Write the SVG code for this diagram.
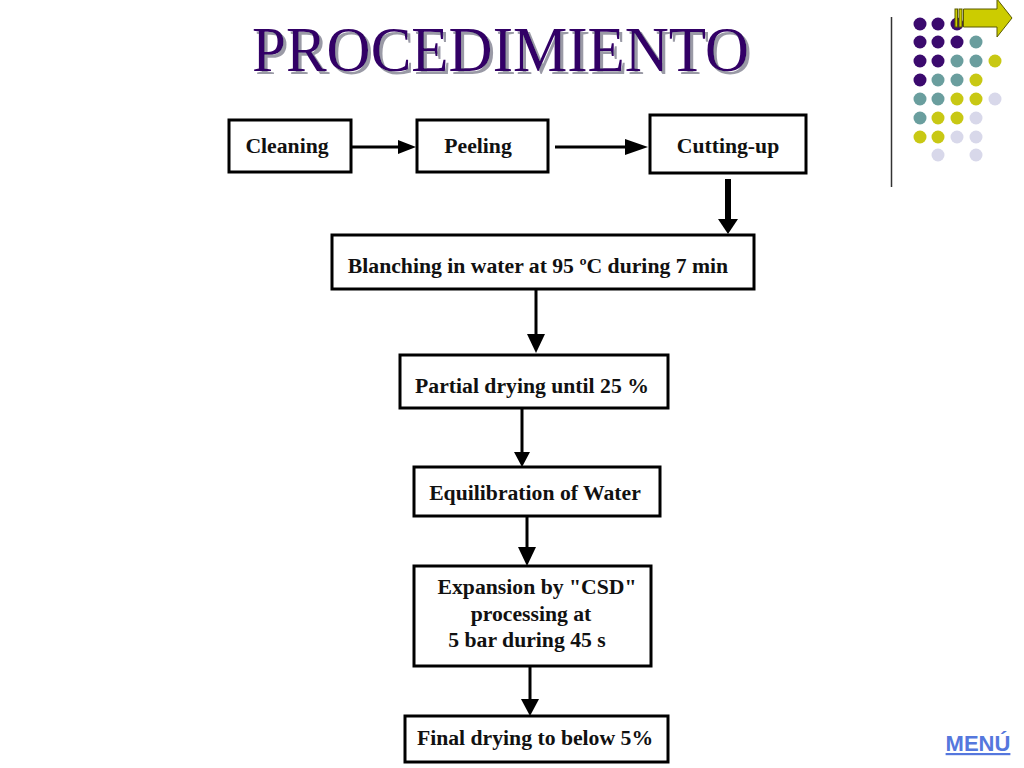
<svg xmlns="http://www.w3.org/2000/svg" width="1024" height="768" viewBox="0 0 1024 768">
<style>
.box{fill:#ffffff;stroke:#000000;stroke-width:3}
.lbl{font-family:"Liberation Serif","Times New Roman",serif;font-weight:bold;font-size:21.7px;fill:#111111;text-anchor:middle}
.ln{stroke:#000000;stroke-width:3;fill:none}
.hd{fill:#000000}
.p{fill:#3b0a6e}.t{fill:#6a9e9e}.y{fill:#c8c814}.l{fill:#d8d8ea}
</style>
<defs>
<filter id="shadow" x="-5%" y="-20%" width="110%" height="140%">
<feOffset in="SourceAlpha" dx="3" dy="3" result="o"/>
<feFlood flood-color="#9a9aa6"/>
<feComposite in2="o" operator="in" result="s"/>
<feMerge><feMergeNode in="s"/><feMergeNode in="SourceGraphic"/></feMerge>
</filter>
</defs>
<rect width="1024" height="768" fill="#ffffff"/>
<g id="title">
<text x="252" y="71" font-family="Liberation Serif,Times New Roman,serif" font-size="64" fill="#330066" textLength="497" lengthAdjust="spacingAndGlyphs" filter="url(#shadow)">PROCEDIMIENTO</text>
</g>
<g id="decor">
<line x1="891.5" y1="17" x2="891.5" y2="187" stroke="#333333" stroke-width="1.5"/>
<circle class="p" cx="920" cy="24" r="6.5"/><circle class="p" cx="938" cy="24" r="6.5"/><circle class="p" cx="957" cy="24" r="6.5"/>
<circle class="p" cx="920" cy="42" r="6.5"/><circle class="p" cx="938" cy="42" r="6.5"/><circle class="p" cx="957" cy="42" r="6.5"/><circle class="t" cx="976" cy="42" r="6.5"/>
<circle class="p" cx="920" cy="61" r="6.5"/><circle class="p" cx="938" cy="61" r="6.5"/><circle class="t" cx="957" cy="61" r="6.5"/><circle class="t" cx="976" cy="61" r="6.5"/><circle class="y" cx="995" cy="61" r="6.5"/>
<circle class="p" cx="920" cy="80" r="6.5"/><circle class="t" cx="938" cy="80" r="6.5"/><circle class="t" cx="957" cy="80" r="6.5"/><circle class="y" cx="976" cy="80" r="6.5"/>
<circle class="t" cx="920" cy="99" r="6.5"/><circle class="t" cx="938" cy="99" r="6.5"/><circle class="y" cx="957" cy="99" r="6.5"/><circle class="y" cx="976" cy="99" r="6.5"/><circle class="l" cx="995" cy="99" r="6.5"/>
<circle class="t" cx="920" cy="118" r="6.5"/><circle class="y" cx="938" cy="118" r="6.5"/><circle class="y" cx="957" cy="118" r="6.5"/><circle class="l" cx="976" cy="118" r="6.5"/>
<circle class="y" cx="920" cy="137" r="6.5"/><circle class="y" cx="938" cy="137" r="6.5"/><circle class="l" cx="957" cy="137" r="6.5"/><circle class="l" cx="976" cy="137" r="6.5"/>
<circle class="l" cx="938" cy="155" r="6.5"/><circle class="l" cx="976" cy="155" r="6.5"/>
</g>
<g id="next-arrow" fill="#cccc00" stroke="#5a5a00" stroke-width="1">
<rect x="955" y="9" width="2.5" height="18"/>
<rect x="959" y="9" width="3" height="18"/>
<polygon points="963.5,9 997,9 997,-1 1012,18 997,37 997,27 963.5,27"/>
</g>
<g id="connectors">
<line class="ln" x1="351" y1="147" x2="400" y2="147"/><polygon class="hd" points="398,140 416,147 398,154"/>
<line class="ln" x1="555" y1="147" x2="627" y2="147"/><polygon class="hd" points="625,139 648,147 625,155"/>
<line x1="728" y1="179" x2="728" y2="222" stroke="#000" stroke-width="6"/><polygon class="hd" points="718,219 738,219 728,234"/>
<line class="ln" x1="536" y1="289" x2="536" y2="336"/><polygon class="hd" points="527,334 545,334 536,353"/>
<line class="ln" x1="522" y1="409" x2="522" y2="454"/><polygon class="hd" points="514,452 530,452 522,467"/>
<line class="ln" x1="527" y1="516" x2="527" y2="549"/><polygon class="hd" points="518,547 536,547 527,566"/>
<line class="ln" x1="530" y1="666" x2="530" y2="701"/><polygon class="hd" points="521,699 539,699 530,716"/>
</g>
<g id="cleaning"><rect class="box" x="229" y="120" width="122" height="52"/><text class="lbl" x="287" y="153">Cleaning</text></g>
<g id="peeling"><rect class="box" x="417" y="120" width="131" height="52"/><text class="lbl" x="478" y="153">Peeling</text></g>
<g id="cutting"><rect class="box" x="650" y="115" width="156" height="58"/><text class="lbl" x="728" y="153">Cutting-up</text></g>
<g id="blanching"><rect class="box" x="332" y="235" width="422" height="54"/><text class="lbl" x="538" y="273">Blanching in water at 95 ºC during 7 min</text></g>
<g id="partial"><rect class="box" x="400" y="355" width="268" height="53"/><text class="lbl" x="532" y="393">Partial drying until 25 %</text></g>
<g id="equilibration"><rect class="box" x="414" y="467" width="246" height="49"/><text class="lbl" x="535" y="500">Equilibration of Water</text></g>
<g id="expansion"><rect class="box" x="414" y="566" width="237" height="100"/>
<text class="lbl" x="537" y="594">Expansion by "CSD"</text>
<text class="lbl" x="531" y="621">processing at</text>
<text class="lbl" x="527" y="647">5 bar during 45 s</text></g>
<g id="final"><rect class="box" x="405" y="716" width="263" height="46"/><text class="lbl" x="535" y="745">Final drying to below 5%</text></g>
<g id="menu"><text x="978" y="751" font-family="Liberation Sans,Arial,sans-serif" font-weight="bold" font-size="22" fill="#5577dd" text-anchor="middle" text-decoration="underline">MENÚ</text></g>
</svg>
